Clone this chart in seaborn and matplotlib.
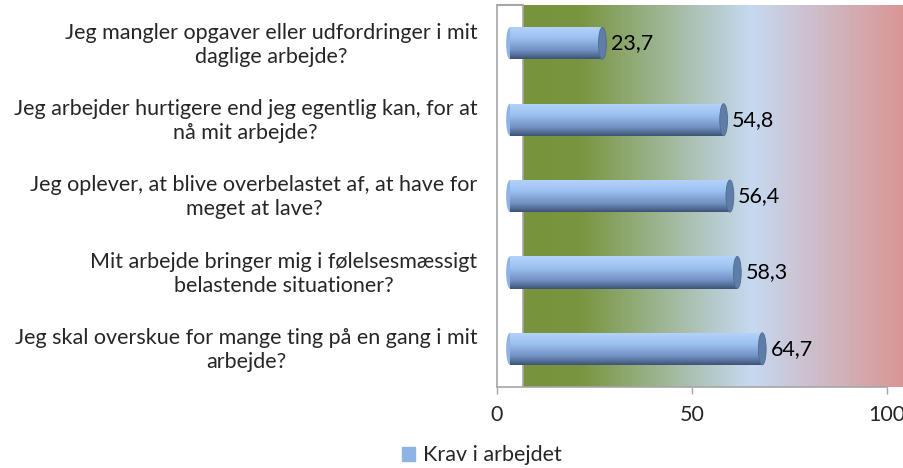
#!/usr/bin/env python3
"""Horizontal cylinder bar chart: Krav i arbejdet."""

import matplotlib
matplotlib.use("Agg")
import matplotlib.pyplot as plt
import matplotlib.transforms as mtransforms
from matplotlib.colors import LinearSegmentedColormap
from matplotlib.patches import Ellipse, Patch
import numpy as np
import pandas as pd
import seaborn as sns

questions = [
    "Jeg mangler opgaver eller udfordringer i mit\ndaglige arbejde?",
    "Jeg arbejder hurtigere end jeg egentlig kan, for at\nnå mit arbejde?",
    "Jeg oplever, at blive overbelastet af, at have for\nmeget at lave?",
    "Mit arbejde bringer mig i følelsesmæssigt\nbelastende situationer?",
    "Jeg skal overskue for mange ting på en gang i mit\narbejde?",
]
scores = [23.7, 54.8, 56.4, 58.3, 64.7]
series_name = "Krav i arbejdet"
x_ticks = [0, 50, 100]

FONT = ["Lato", "DejaVu Sans"]
FS = 15.5

sns.set_style("white")
plt.rcParams["font.family"] = FONT

df = pd.DataFrame({"question": questions, "score": scores})

fig = plt.figure(figsize=(9.04, 4.68), dpi=100)
ax = fig.add_axes([0.5498, 0.173, 0.4502, 0.816])

sns.barplot(data=df, x="score", y="question", orient="h", width=0.42,
            color="#8EB4E3", ax=ax, zorder=3)

# the 3D back wall reaches a bit past 100
x_max = 104.4
ax.set_xlim(0, x_max)
ax.set_ylim(4.5, -0.5)

# back wall gradient (green -> light blue -> red)
wall_start = 6.7
wall_cmap = LinearSegmentedColormap.from_list(
    "wall", [(0.0, "#77933C"), (0.15, "#79953F"), (0.6, "#C6D9F1"), (1.0, "#D99694")])
ax.imshow(np.linspace(0, 1, 256).reshape(1, -1), cmap=wall_cmap, aspect="auto",
          extent=(wall_start, x_max, 4.5, -0.5), zorder=0, interpolation="bicubic")
ax.axvline(wall_start, color="#A6A6A6", lw=1.2, zorder=1)
ax.plot([0, wall_start], [-0.5, -0.5], color="#A6A6A6", lw=1.5, zorder=1,
        clip_on=False)

# cylinder look for the bars, shifted a little like the 3D front face
shift = mtransforms.ScaledTranslation(13 / 100, 0, fig.dpi_scale_trans)
bar_cmap = LinearSegmentedColormap.from_list(
    "cyl", [(0.0, "#B5D3FA"), (0.35, "#9CC2F2"), (0.75, "#6F8FBF"), (1.0, "#3E5478")])
grad = np.linspace(0, 1, 64).reshape(-1, 1)
for bar, val in zip(ax.patches, scores):
    x0, y0 = bar.get_x(), bar.get_y()
    w, h = bar.get_width(), bar.get_height()
    bar.set_transform(ax.transData + shift)
    bar.set_facecolor("none")
    bar.set_edgecolor("none")
    im = ax.imshow(grad, cmap=bar_cmap, aspect="auto",
                   extent=(x0, x0 + w, y0 + h, y0), zorder=3)
    im.set_transform(ax.transData + shift)
    im.set_clip_path(bar)
    cap_w = 2.0
    ax.add_patch(Ellipse((x0, y0 + h / 2), cap_w, h, facecolor="#8FB3E6",
                         edgecolor="none", zorder=2, transform=ax.transData + shift))
    ax.add_patch(Ellipse((x0 + w, y0 + h / 2), cap_w, h, facecolor="#5F7EA7",
                         edgecolor="#4F6C93", lw=0.6, zorder=4,
                         transform=ax.transData + shift))
    ax.text(x0 + w + 2.1, y0 + h / 2, f"{val:.1f}".replace(".", ","),
            va="center", ha="left", fontsize=FS, color="black",
            transform=ax.transData + shift, zorder=5)

# category labels: right aligned block, lines centred
ax.set_yticks(range(len(questions)))
ax.set_yticklabels([])
for i, q in enumerate(questions):
    ax.annotate(q, xy=(0, i), xycoords=("axes fraction", "data"),
                xytext=(-14, -1), textcoords="offset points", ha="right",
                va="center", multialignment="center", fontsize=FS,
                linespacing=1.25, annotation_clip=False)

ax.set_xticks(x_ticks)
ax.set_xticklabels([str(t) for t in x_ticks], fontsize=FS)
ax.tick_params(axis="y", length=0)
ax.tick_params(axis="x", length=5, width=1, color="#A6A6A6", direction="out",
               pad=8, bottom=True)
ax.set_xlabel("")
ax.set_ylabel("")
for side in ["top", "right"]:
    ax.spines[side].set_visible(False)
for side in ["left", "bottom"]:
    ax.spines[side].set_color("#A6A6A6")
    ax.spines[side].set_linewidth(1.2)
ax.spines["bottom"].set_bounds(0, 100)

fig.legend(handles=[Patch(facecolor="#8EB4E3", edgecolor="#8EB4E3")],
           labels=[series_name], loc="center", bbox_to_anchor=(0.533, 0.027),
           frameon=False, fontsize=FS, handlelength=0.6, handleheight=0.6,
           handletextpad=0.35, borderpad=0)

fig.savefig("out.png", dpi=100)
